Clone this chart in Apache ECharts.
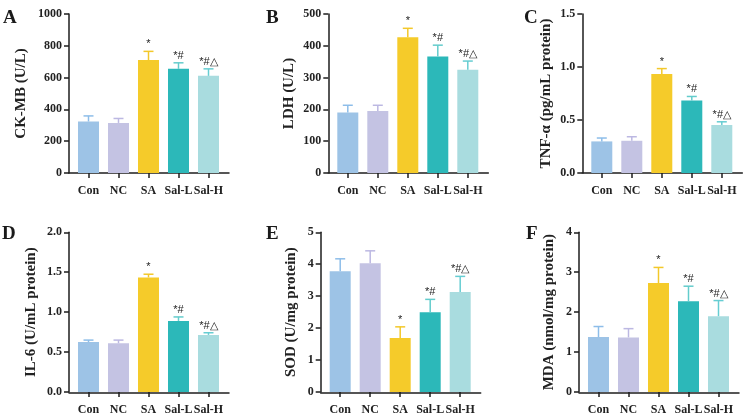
<!DOCTYPE html>
<html><head><meta charset="utf-8">
<script src="https://cdn.jsdelivr.net/npm/echarts@6/dist/echarts.min.js"></script>
<style>html,body{margin:0;padding:0;background:#fff}#c{width:749px;height:416px}</style>
</head><body><div id="c"></div>
<script>
const categories = ['Con', 'NC', 'SA', 'Sal-L', 'Sal-H'];
const sigMarks = ['', '', '*', '*#', '*#△'];
const ckmbMean = [324, 315, 710, 655, 611];
const ckmbErr  = [35, 28, 55, 38, 44];
const ldhMean  = [190, 195, 427, 366, 325];
const ldhErr   = [23, 18, 28, 36, 27];
const tnfMean  = [0.298, 0.304, 0.935, 0.684, 0.452];
const tnfErr   = [0.032, 0.038, 0.05, 0.038, 0.031];
const il6Mean  = [0.625, 0.61, 1.435, 0.89, 0.715];
const il6Err   = [0.025, 0.04, 0.04, 0.05, 0.027];
const sodMean  = [3.78, 4.03, 1.69, 2.5, 3.13];
const sodErr   = [0.39, 0.39, 0.35, 0.4, 0.49];
const mdaMean  = [1.375, 1.367, 2.73, 2.27, 1.9];
const mdaErr   = [0.265, 0.22, 0.39, 0.38, 0.39];

const barColors = ['#9dc3e6', '#c4c3e3', '#f5cb2a', '#2cb8b9', '#a9dcdf'];
const errColors = ['#8dbde9', '#bcb8e2', '#f3c82a', '#63cccc', '#66cdd2'];

const panels = [
  {letter:'A', name:'CK-MB (U/L)', mean:ckmbMean, err:ckmbErr, max:1000, interval:200, dec:0, axisX:69, top:14, h:159, gap:40},
  {letter:'B', name:'LDH (U/L)', mean:ldhMean, err:ldhErr, max:500, interval:100, dec:0, axisX:328.3, top:14, h:159, gap:32},
  {letter:'C', name:'TNF-α (pg/mL protein)', mean:tnfMean, err:tnfErr, max:1.5, interval:0.5, dec:1, axisX:582.3, top:14, h:159, gap:29},
  {letter:'D', name:'IL-6 (U/mL protein)', mean:il6Mean, err:il6Err, max:2, interval:0.5, dec:1, axisX:69, top:232.3, h:160, gap:30},
  {letter:'E', name:'SOD (U/mg protein)', mean:sodMean, err:sodErr, max:5, interval:1, dec:0, axisX:320.7, top:232.3, h:160, gap:22},
  {letter:'F', name:'MDA (nmol/mg protein)', mean:mdaMean, err:mdaErr, max:4, interval:1, dec:0, axisX:579, top:232.3, h:160, gap:22}
];
const letterPos = [[3,9],[266,9],[524,9],[2,225],[266,225],[526,225]];

const serif = '"Liberation Serif","Times New Roman",serif';
const axisColor = '#1e1e1e';
const grid = [], xAxis = [], yAxis = [], series = [], title = [];

panels.forEach((p, k) => {
  const gi = grid.length;
  grid.push({left: p.axisX + 4.5, top: p.top, width: 150, height: p.h});
  grid.push({left: p.axisX, top: p.top, width: 160, height: p.h});
  xAxis.push({
    type:'category', gridIndex: gi, data: categories,
    axisLine:{show:false},
    axisTick:{show:true, alignWithLabel:true, length:5, lineStyle:{color:axisColor, width:1.5}},
    axisLabel:{interval:0, hideOverlap:false, margin:12, color:'#222', fontFamily:serif, fontWeight:'bold', fontSize:12}
  });
  xAxis.push({
    type:'value', gridIndex: gi + 1, min:0, max:1,
    axisLine:{show:true, lineStyle:{color:axisColor, width:1.5}},
    axisTick:{show:false}, axisLabel:{show:false}, splitLine:{show:false}
  });
  yAxis.push({
    type:'value', gridIndex: gi, min:0, max:p.max, interval:p.interval, offset:4.5,
    name:p.name, nameLocation:'middle', nameRotate:90, nameGap:p.gap,
    nameTextStyle:{color:'#222', fontFamily:serif, fontWeight:'bold', fontSize:15},
    axisLine:{show:true, lineStyle:{color:axisColor, width:1.5}},
    axisTick:{show:true, length:5, lineStyle:{color:axisColor, width:1.5}},
    axisLabel:{margin:7, color:'#222', fontFamily:serif, fontWeight:'bold', fontSize:12,
      formatter: v => v.toFixed(p.dec)},
    splitLine:{show:false}
  });
  yAxis.push({type:'value', gridIndex: gi + 1, show:false, min:0, max:1});
  const xi = xAxis.length - 2, yi = yAxis.length - 2;
  series.push({
    type:'bar', xAxisIndex: xi, yAxisIndex: yi, barWidth: 21,
    data: p.mean.map((v, i) => ({value: v, itemStyle:{color: barColors[i]}})),
    silent: true, animation: false
  });
  series.push({
    type:'custom', xAxisIndex: xi, yAxisIndex: yi, silent: true, animation:false, z: 3,
    data: p.mean.map((v, i) => [i, v, p.err[i]]),
    renderItem: (params, api) => {
      const i = api.value(0), m = api.value(1), e = api.value(2);
      const base = api.coord([i, m]);
      const top = api.coord([i, m + e]);
      const col = errColors[i];
      const st = {stroke: col, lineWidth: 1.5};
      const children = [
        {type:'line', shape:{x1:base[0], y1:base[1], x2:top[0], y2:top[1]}, style:st},
        {type:'line', shape:{x1:top[0]-5, y1:top[1], x2:top[0]+5, y2:top[1]}, style:st}
      ];
      if (sigMarks[i]) {
        children.push({type:'text', x: top[0], y: top[1] - 1.5,
          style:{text: sigMarks[i], fill:'#222', font:'11px "Liberation Sans", Arial, sans-serif',
            textAlign:'center', textVerticalAlign:'bottom'}});
      }
      return {type:'group', children};
    }
  });
  title.push({text:p.letter, left:letterPos[k][0], top:letterPos[k][1], padding:0,
    textStyle:{fontFamily:serif, fontWeight:'bold', fontSize:19, color:'#1a1a1a'}});
});

const chart = echarts.init(document.getElementById('c'), null, {renderer:'canvas'});
chart.setOption({animation:false, title, grid, xAxis, yAxis, series});
</script></body></html>
